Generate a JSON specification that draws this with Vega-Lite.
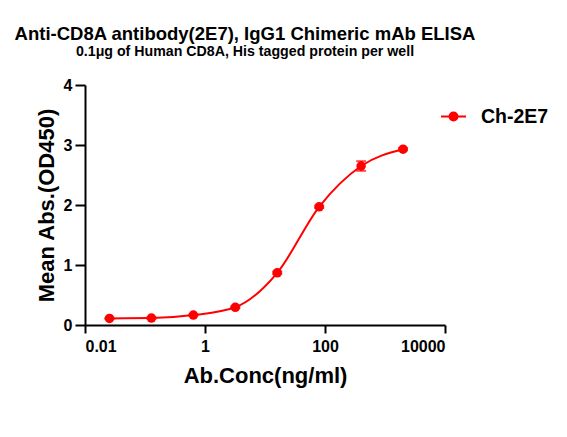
{
  "$schema": "https://vega.github.io/schema/vega-lite/v6.json",
  "width": 360,
  "height": 240,
  "autosize": {"type": "none"},
  "padding": {"left": 85, "top": 85, "right": 122, "bottom": 112},
  "background": "white",
  "config": {
    "font": "Liberation Sans",
    "view": {"stroke": null},
    "axis": {
      "grid": false,
      "domainColor": "black",
      "domainWidth": 2,
      "tickColor": "black",
      "tickWidth": 2,
      "labelFont": "Liberation Sans",
      "labelFontWeight": "bold",
      "labelFontSize": 16,
      "labelColor": "black",
      "titleFont": "Liberation Sans",
      "titleFontWeight": "bold",
      "titleFontSize": 22,
      "titleColor": "black"
    }
  },
  "title": {
    "text": "Anti-CD8A antibody(2E7), IgG1 Chimeric mAb ELISA",
    "subtitle": "0.1μg of Human CD8A, His tagged protein per well",
    "anchor": "middle",
    "frame": "group",
    "dx": -20,
    "offset": 18,
    "font": "Liberation Sans",
    "fontSize": 18.5,
    "fontWeight": "bold",
    "color": "black",
    "subtitleFont": "Liberation Sans",
    "subtitleFontSize": 14.2,
    "subtitleFontWeight": "bold",
    "subtitleColor": "black",
    "subtitlePadding": 1
  },
  "data": {
    "values": [
      {"conc": 0.0256, "od": 0.11, "lo": 0.10, "hi": 0.12, "series": "Ch-2E7"},
      {"conc": 0.128, "od": 0.115, "lo": 0.105, "hi": 0.125, "series": "Ch-2E7"},
      {"conc": 0.64, "od": 0.165, "lo": 0.155, "hi": 0.175, "series": "Ch-2E7"},
      {"conc": 3.2, "od": 0.295, "lo": 0.28, "hi": 0.31, "series": "Ch-2E7"},
      {"conc": 16, "od": 0.87, "lo": 0.85, "hi": 0.89, "series": "Ch-2E7"},
      {"conc": 80, "od": 1.97, "lo": 1.95, "hi": 1.99, "series": "Ch-2E7"},
      {"conc": 400, "od": 2.65, "lo": 2.57, "hi": 2.73, "series": "Ch-2E7"},
      {"conc": 2000, "od": 2.93, "lo": 2.91, "hi": 2.95, "series": "Ch-2E7"}
    ]
  },
  "encoding": {
    "x": {
      "field": "conc",
      "type": "quantitative",
      "scale": {"type": "log", "domain": [0.01, 10000]},
      "axis": {
        "title": "Ab.Conc(ng/ml)",
        "values": [0.01, 1, 100, 10000],
        "format": "~g",
        "tickSize": 8,
        "labelPadding": 5,
        "titlePadding": 11
      }
    },
    "y": {
      "field": "od",
      "type": "quantitative",
      "scale": {"domain": [0, 4]},
      "axis": {
        "title": "Mean Abs.(OD450)",
        "values": [0, 1, 2, 3, 4],
        "tickSize": 10,
        "labelPadding": 3,
        "titlePadding": 5
      }
    }
  },
  "layer": [
    {
      "mark": {"type": "line", "interpolate": "monotone", "color": "#FF0000", "strokeWidth": 2},
      "encoding": {}
    },
    {
      "mark": {"type": "rule", "color": "#FF0000", "strokeWidth": 2},
      "encoding": {
        "y": {"field": "lo", "type": "quantitative"},
        "y2": {"field": "hi"}
      }
    },
    {
      "mark": {"type": "tick", "color": "#FF0000", "thickness": 2, "size": 10, "orient": "horizontal"},
      "encoding": {"y": {"field": "lo", "type": "quantitative"}}
    },
    {
      "mark": {"type": "tick", "color": "#FF0000", "thickness": 2, "size": 10, "orient": "horizontal"},
      "encoding": {"y": {"field": "hi", "type": "quantitative"}}
    },
    {
      "mark": {"type": "point", "filled": true, "opacity": 1, "size": 90, "shape": "circle"},
      "encoding": {
        "color": {
          "field": "series",
          "type": "nominal",
          "scale": {"range": ["#FF0000"]},
          "legend": {
            "title": null,
            "orient": "none",
            "legendX": 355,
            "legendY": 18,
            "symbolType": "M-1,0L1,0M-0.32,0A0.32,0.32 0 1,1 0.32,0A0.32,0.32 0 1,1 -0.32,0Z",
            "symbolSize": 625,
            "symbolStrokeWidth": 2,
            "symbolStrokeColor": "#FF0000",
            "symbolFillColor": "#FF0000",
            "symbolOpacity": 1,
            "labelFont": "Liberation Sans",
            "labelFontWeight": "bold",
            "labelFontSize": 19.5,
            "labelColor": "black",
            "labelOffset": 14,
            "padding": 0
          }
        }
      }
    }
  ]
}
